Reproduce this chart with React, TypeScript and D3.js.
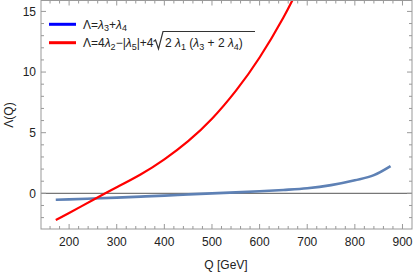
import React from "react";
import * as d3 from "d3";

const blueQ = [172, 200, 250, 300, 350, 400, 450, 500, 550, 600, 650, 700, 750, 800, 840, 875];
const blueV = [-0.53, -0.5, -0.43, -0.35, -0.27, -0.19, -0.09, 0.0, 0.08, 0.17, 0.28, 0.42, 0.68, 1.08, 1.5, 2.25];

const redQ = [172, 200, 250, 276, 300, 350, 400, 450, 500, 550, 600, 650, 680];
const redV = [-2.2, -1.62, -0.55, 0.0, 0.5, 1.55, 2.8, 4.3, 6.15, 8.45, 11.2, 14.5, 16.8];

const xTicks = [200, 300, 400, 500, 600, 700, 800, 900];
const yTicks = [0, 5, 10, 15];

const W = 415, H = 273;
const L = 41, R = 412, T = 0.5, B = 229;

export default function App() {
  const x = d3.scaleLinear().domain([141, 920]).range([L, R]);
  const y = d3.scaleLinear().domain([-2.94, 15.9]).range([B, T]);
  const blueLine = d3.line<[number, number]>().x(d => x(d[0])).y(d => y(d[1])).curve(d3.curveMonotoneX);
  const redLine = d3.line<[number, number]>().x(d => x(d[0])).y(d => y(d[1])).curve(d3.curveNatural);
  const blue = blueLine(blueQ.map((q, i) => [q, blueV[i]] as [number, number]))!;
  const red = redLine(redQ.map((q, i) => [q, redV[i]] as [number, number]))!;
  const xMinor = d3.range(160, 920, 20).filter(v => v % 100 !== 0);
  const yMinor = d3.range(-2, 16, 1).filter(v => v % 5 !== 0);
  const frame = "#999";
  const font = "'Liberation Sans', Arial, sans-serif";
  return (
    <svg width={W} height={H} style={{ position: "absolute", left: 0, top: 0 }} fontFamily={font}>
      <defs>
        <clipPath id="clip"><rect x={L} y={T} width={R - L} height={B - T} /></clipPath>
      </defs>
      <rect width={W} height={H} fill="#fff" />
      <line x1={L} x2={R} y1={y(0)} y2={y(0)} stroke="#777" strokeWidth={1.3} />
      <g clipPath="url(#clip)">
        <path d={blue} fill="none" stroke="#5E81B5" strokeWidth={2.6} />
        <path d={red} fill="none" stroke="#FF0000" strokeWidth={2.2} />
      </g>
      <rect x={L} y={T} width={R - L} height={B - T} fill="none" stroke={frame} strokeWidth={1} />
      {xTicks.map(v => (
        <g key={"xt" + v}>
          <line x1={x(v)} x2={x(v)} y1={B} y2={B - 5} stroke={frame} />
          <line x1={x(v)} x2={x(v)} y1={T} y2={T + 5} stroke={frame} />
          <text x={x(v)} y={246} textAnchor="middle" fontSize={12} fill="#222">{v}</text>
        </g>
      ))}
      {xMinor.map(v => (
        <g key={"xm" + v}>
          <line x1={x(v)} x2={x(v)} y1={B} y2={B - 3} stroke={frame} />
          <line x1={x(v)} x2={x(v)} y1={T} y2={T + 3} stroke={frame} />
        </g>
      ))}
      {yTicks.map(v => (
        <g key={"yt" + v}>
          <line x1={L} x2={L + 5} y1={y(v)} y2={y(v)} stroke={frame} />
          <line x1={R} x2={R - 5} y1={y(v)} y2={y(v)} stroke={frame} />
          <text x={36} y={y(v) + 4.3} textAnchor="end" fontSize={12} fill="#222">{v}</text>
        </g>
      ))}
      {yMinor.map(v => (
        <g key={"ym" + v}>
          <line x1={L} x2={L + 3} y1={y(v)} y2={y(v)} stroke={frame} />
          <line x1={R} x2={R - 3} y1={y(v)} y2={y(v)} stroke={frame} />
        </g>
      ))}
      <text x={226} y={269} textAnchor="middle" fontSize={12} fill="#222">Q [GeV]</text>
      <text transform="translate(13,115) rotate(-90)" textAnchor="middle" fontSize={12} fill="#222">Λ(Q)</text>
      <line x1={49} x2={76} y1={24.3} y2={24.3} stroke="#0000FF" strokeWidth={3} />
      <line x1={49} x2={76} y1={42.7} y2={42.7} stroke="#FF0000" strokeWidth={3} />
      <text x={83} y={28.8} fontSize={12} fill="#222">
        Λ=<tspan fontStyle="italic">λ</tspan><tspan fontSize={9} dy={2.5}>3</tspan>
        <tspan dy={-2.5}>+</tspan><tspan fontStyle="italic">λ</tspan><tspan fontSize={9} dy={2.5}>4</tspan>
      </text>
      <text x={83} y={47.2} fontSize={12} fill="#222">
        Λ=4<tspan fontStyle="italic">λ</tspan><tspan fontSize={9} dy={2.5}>2</tspan>
        <tspan dy={-2.5}>−|</tspan><tspan fontStyle="italic">λ</tspan><tspan fontSize={9} dy={2.5}>5</tspan>
        <tspan dy={-2.5}>|+4</tspan>
      </text>
      <path d="M153.5,41.5 L155.5,40 L158.5,49 L163,31.5 L255,31.5" fill="none" stroke="#333" strokeWidth={1.2} />
      <text x={165} y={47.2} fontSize={12} fill="#222">
        2 <tspan fontStyle="italic">λ</tspan><tspan fontSize={9} dy={2.5}>1</tspan>
        <tspan dy={-2.5}> (</tspan><tspan fontStyle="italic">λ</tspan><tspan fontSize={9} dy={2.5}>3</tspan>
        <tspan dy={-2.5}> + 2 </tspan><tspan fontStyle="italic">λ</tspan><tspan fontSize={9} dy={2.5}>4</tspan>
        <tspan dy={-2.5}>)</tspan>
      </text>
    </svg>
  );
}
